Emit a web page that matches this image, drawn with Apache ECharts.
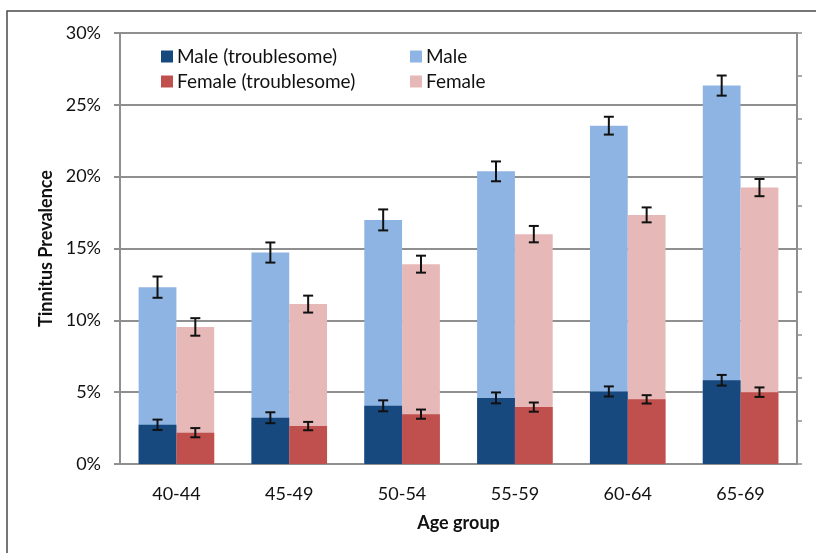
<!DOCTYPE html>
<html style="height: 100%">
<head>
	<meta charset="utf-8">
	<script src="https://cdn.jsdelivr.net/npm/echarts@6/dist/echarts.min.js"></script>
</head>
<body style="height: 100%; margin: 0; background: #fff">
	<div id="container" style="width: 816px; height: 553px;"></div>
	<script type="text/javascript">
		// data, in percent
		let categories = ['40-44', '45-49', '50-54', '55-59', '60-64', '65-69'];
		let maleTrouble = [2.73, 3.22, 4.05, 4.60, 5.05, 5.83];
		let maleTroubleErr = [0.36, 0.38, 0.38, 0.38, 0.35, 0.37];
		let male = [12.31, 14.72, 16.99, 20.37, 23.55, 26.34];
		let maleErr = [0.74, 0.70, 0.73, 0.69, 0.62, 0.70];
		let femaleTrouble = [2.18, 2.64, 3.47, 3.96, 4.50, 5.00];
		let femaleTroubleErr = [0.32, 0.29, 0.32, 0.32, 0.29, 0.33];
		let female = [9.54, 11.13, 13.91, 16.00, 17.34, 19.24];
		let femaleErr = [0.61, 0.59, 0.59, 0.57, 0.52, 0.60];
		let yTicks = [0, 5, 10, 15, 20, 25, 30];

		let dom = document.getElementById("container");
		let myChart = echarts.init(dom);
		let font = 'Lato';
		let gridColor = '#8f8f8f';
		let catGap = 0.33; // barCategoryGap as fraction

		// I-beam error bars, side -1 = left bar (male), +1 = right bar (female)
		function errSeries(name, values, errs, side) {
			let data = [];
			for (let i in values) {
				data.push([Number(i), values[i] - errs[i], values[i] + errs[i]]);
			}
			return {
				name: name,
				type: 'custom',
				xAxisIndex: 0,
				z: 10,
				encode: { x: 0, y: [1, 2] },
				data: data,
				renderItem: function (params, api) {
					let idx = api.value(0);
					let lo = api.coord([idx, api.value(1)]);
					let hi = api.coord([idx, api.value(2)]);
					let band = api.size([1, 0])[0];
					let barW = band * (1 - catGap) / 2;
					let x = lo[0] + side * barW / 2;
					let cap = 5;
					let st = { stroke: '#111', lineWidth: 2 };
					return {
						type: 'group',
						children: [
							{ type: 'line', shape: { x1: x, y1: lo[1], x2: x, y2: hi[1] }, style: st },
							{ type: 'line', shape: { x1: x - cap, y1: lo[1], x2: x + cap, y2: lo[1] }, style: st },
							{ type: 'line', shape: { x1: x - cap, y1: hi[1], x2: x + cap, y2: hi[1] }, style: st }
						]
					};
				}
			};
		}

		function barSeries(name, data, color, axisIdx, z) {
			return {
				name: name,
				type: 'bar',
				xAxisIndex: axisIdx,
				barGap: 0,
				barCategoryGap: (catGap * 100) + '%',
				z: z,
				itemStyle: { color: color },
				data: data
			};
		}

		let legendText = { fontFamily: font, fontSize: 19, color: '#111', padding: [0, 0, 0, -1] };

		let option = {
			animation: false,
			textStyle: { fontFamily: font },
			graphic: [
				{
					type: 'rect',
					shape: { x: 7, y: 11, width: 900, height: 700 },
					style: { fill: 'none', stroke: '#4a4a4a', lineWidth: 1.5 },
					silent: true
				}
			],
			legend: [
				{
					orient: 'vertical',
					left: 156, top: 42,
					icon: 'rect',
					itemWidth: 12, itemHeight: 12, itemGap: 6,
					textStyle: legendText,
					data: ['Male (troublesome)', 'Female (troublesome)']
				},
				{
					orient: 'vertical',
					left: 405, top: 42,
					icon: 'rect',
					itemWidth: 12, itemHeight: 12, itemGap: 6,
					textStyle: legendText,
					data: ['Male', 'Female']
				}
			],
			grid: { left: 120, right: 19, top: 33, bottom: 89 },
			xAxis: [
				{
					type: 'category',
					data: categories,
					name: 'Age group',
					nameLocation: 'middle',
					nameGap: 50,
					nameTextStyle: { fontFamily: font, fontSize: 18, fontWeight: 'bold', color: '#111' },
					axisLine: { lineStyle: { color: gridColor, width: 2 } },
					axisTick: { show: false },
					axisLabel: { margin: 21, fontFamily: font, fontSize: 18, color: '#111' }
				},
				{
					type: 'category',
					data: categories,
					show: false
				}
			],
			yAxis: [
				{
					type: 'value',
					min: yTicks[0],
					max: yTicks[yTicks.length - 1],
					interval: 5,
					name: 'Tinnitus Prevalence',
					nameLocation: 'middle',
					nameGap: 64,
					nameTextStyle: { fontFamily: font, fontSize: 18, fontWeight: 'bold', color: '#111' },
					axisLine: { show: true, lineStyle: { color: gridColor, width: 2 } },
					axisTick: { show: true, length: 6, lineStyle: { color: gridColor, width: 2 } },
					axisLabel: { formatter: '{value}%', margin: 19, fontFamily: font, fontSize: 18, color: '#111' },
					splitLine: { lineStyle: { color: gridColor, width: 2 } }
				},
				{
					type: 'value',
					position: 'right',
					min: 0,
					max: 30,
					interval: 3,
					axisLine: { show: true, lineStyle: { color: gridColor, width: 2 } },
					axisTick: { show: true, length: 5, lineStyle: { color: gridColor, width: 1.5 } },
					axisLabel: { show: false },
					splitLine: { show: false }
				}
			],
			series: [
				barSeries('Male', male, '#8eb4e3', 0, 2),
				barSeries('Female', female, '#e6b9b8', 0, 2),
				barSeries('Male (troublesome)', maleTrouble, '#17497f', 1, 3),
				barSeries('Female (troublesome)', femaleTrouble, '#c0504d', 1, 3),
				errSeries('maleErr', male, maleErr, -1),
				errSeries('femaleErr', female, femaleErr, 1),
				errSeries('maleTroubleErr', maleTrouble, maleTroubleErr, -1),
				errSeries('femaleTroubleErr', femaleTrouble, femaleTroubleErr, 1)
			]
		};

		myChart.setOption(option);
	</script>
</body>
</html>
